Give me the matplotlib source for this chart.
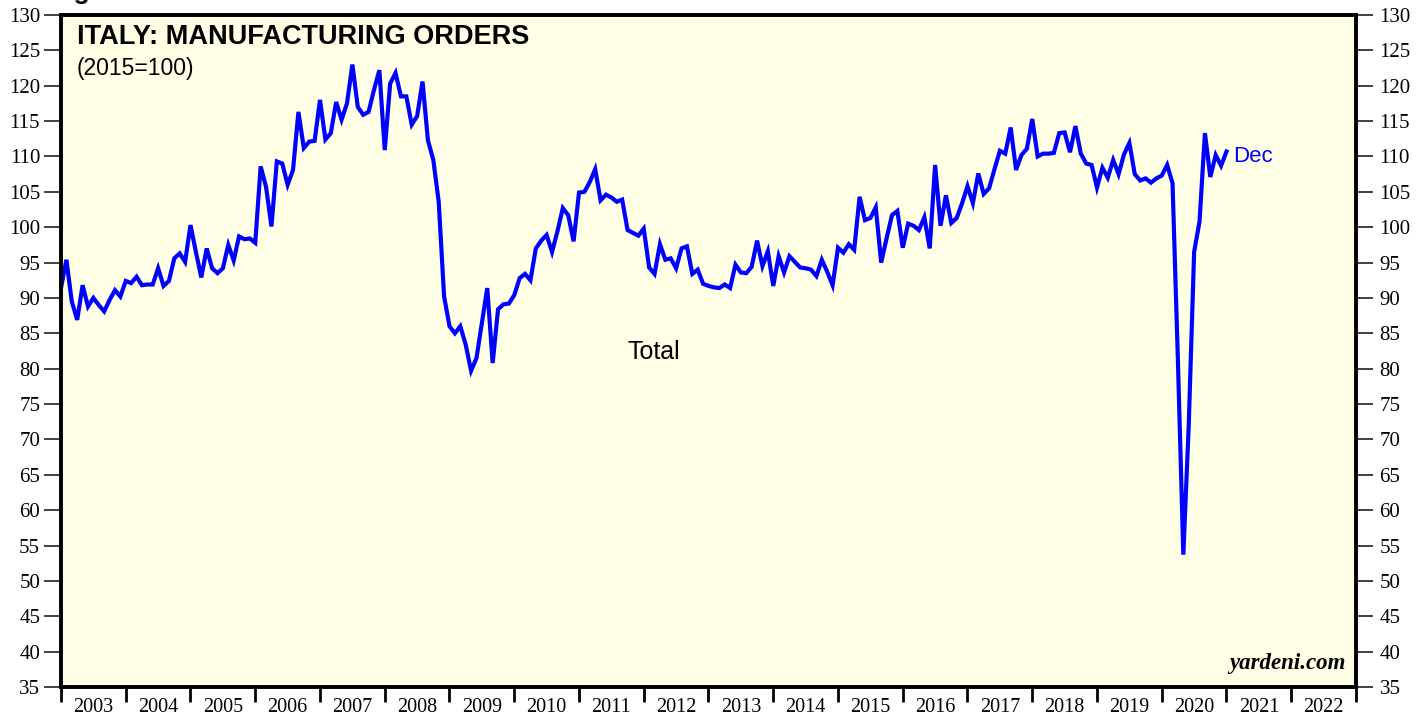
import numpy as np
import matplotlib
matplotlib.use("Agg")
import matplotlib.pyplot as plt

# Italy manufacturing orders, total (2015=100), monthly Dec 2002 - Dec 2020
dec_2002 = [91.4]
y2003 = [95.4, 89.5, 86.9, 91.8, 88.8, 90.0, 89.0, 88.1, 89.7, 91.1, 90.2, 92.4]
y2004 = [92.1, 93.0, 91.8, 91.9, 91.9, 94.2, 91.7, 92.4, 95.6, 96.3, 95.1, 100.3]
y2005 = [96.5, 92.9, 97.0, 94.2, 93.5, 94.2, 97.5, 95.3, 98.7, 98.3, 98.4, 97.8]
y2006 = [108.6, 105.7, 100.1, 109.3, 109.0, 106.0, 108.1, 116.3, 111.2, 112.1, 112.2, 118.0]
y2007 = [112.4, 113.3, 117.7, 115.2, 117.5, 123.0, 117.0, 115.9, 116.3, 119.4, 122.2, 110.9]
y2008 = [120.3, 121.8, 118.5, 118.5, 114.5, 115.7, 120.6, 112.3, 109.5, 103.6, 90.2, 86.0]
y2009 = [85.0, 86.0, 83.4, 79.7, 81.5, 86.4, 91.4, 80.8, 88.4, 89.1, 89.2, 90.4]
y2010 = [92.8, 93.4, 92.5, 97.0, 98.1, 98.9, 96.5, 99.4, 102.7, 101.7, 98.0, 104.9]
y2011 = [105.0, 106.4, 108.2, 103.8, 104.6, 104.2, 103.6, 103.9, 99.6, 99.2, 98.8, 99.8]
y2012 = [94.3, 93.4, 97.6, 95.4, 95.6, 94.2, 97.0, 97.3, 93.4, 94.0, 92.0, 91.7]
y2013 = [91.5, 91.4, 91.9, 91.4, 94.7, 93.6, 93.5, 94.4, 98.1, 94.5, 96.6, 91.7]
y2014 = [95.9, 93.6, 95.9, 95.1, 94.3, 94.2, 94.0, 93.1, 95.4, 93.7, 91.8, 97.1]
y2015 = [96.4, 97.6, 96.8, 104.3, 101.0, 101.3, 102.8, 95.0, 98.4, 101.7, 102.3, 97.1]
y2016 = [100.5, 100.2, 99.6, 101.4, 97.0, 108.8, 100.2, 104.5, 100.6, 101.3, 103.4, 105.8]
y2017 = [103.4, 107.6, 104.7, 105.5, 108.2, 110.8, 110.4, 114.1, 108.1, 110.2, 111.1, 115.3]
y2018 = [110.0, 110.4, 110.4, 110.5, 113.3, 113.4, 110.6, 114.3, 110.4, 109.0, 108.8, 105.6]
y2019 = [108.4, 107.0, 109.5, 107.5, 110.3, 111.9, 107.5, 106.6, 106.9, 106.3, 106.9, 107.3]
y2020 = [108.8, 106.2, 81.0, 53.7, 72.0, 96.5, 100.8, 113.3, 107.1, 110.2, 108.7, 110.7]

years = list(range(2003, 2023))
y_ticks = list(range(35, 131, 5))

orders = (dec_2002 + y2003 + y2004 + y2005 + y2006 + y2007 + y2008 + y2009 + y2010
          + y2011 + y2012 + y2013 + y2014 + y2015 + y2016 + y2017 + y2018 + y2019 + y2020)
# each month is plotted at its month end
t = 2003 + np.arange(len(orders)) / 12

serif = "Liberation Serif"
sans = "Liberation Sans"

fig = plt.figure(figsize=(14.27, 7.19), dpi=100)
ax = fig.add_axes([61 / 1427, 32 / 719, 1295 / 1427, 672 / 719])
ax.set_facecolor("#FFFFE6")

ax.plot(t, orders, color="#0000FF", lw=3.0, solid_joinstyle="miter")

ax.set_xlim(2003, 2023)
ax.set_ylim(35, 130)

# left y axis
ax.set_yticks(y_ticks)
ax.set_yticklabels([str(v) for v in y_ticks], fontfamily=serif, fontsize=15)
ax.tick_params(axis="y", direction="out", length=12, width=1.3, color="#333333", pad=3)

# right y axis (same scale, a bit more label pad)
ax2 = ax.twinx()
ax2.set_ylim(35, 130)
ax2.set_yticks(y_ticks)
ax2.set_yticklabels([str(v) for v in y_ticks], fontfamily=serif, fontsize=15)
ax2.tick_params(axis="y", direction="out", length=12, width=1.3, color="#333333", pad=5)

# year ticks at boundaries, labels mid-year
ax.set_xticks(list(years) + [2023])
ax.set_xticklabels([])
ax.set_xticks([y + 0.5 for y in years], minor=True)
ax.set_xticklabels([str(y) for y in years], minor=True, fontfamily=serif, fontsize=14.5)
ax.tick_params(axis="x", which="major", direction="out", length=11, width=2)
ax.tick_params(axis="x", which="minor", length=0, pad=8)

for a in (ax, ax2):
    for s in a.spines.values():
        s.set_linewidth(2.6)

ax.text(0.012, 0.987, "ITALY: MANUFACTURING ORDERS", transform=ax.transAxes,
        fontfamily=sans, fontweight="bold", fontsize=19.5, va="top", ha="left")
ax.text(0.012, 0.937, "(2015=100)", transform=ax.transAxes,
        fontfamily=sans, fontsize=16.5, va="top", ha="left")
ax.text(2012.15, 82.3, "Total", fontfamily=sans, fontsize=18, ha="center", va="center")
ax.text(2021.1, 110.0, "Dec", fontfamily=sans, fontsize=16, color="#0000FF",
        ha="left", va="center")
ax.text(0.992, 0.02, "yardeni.com", transform=ax.transAxes, fontfamily=serif,
        fontweight="bold", fontstyle="italic", fontsize=16.5, ha="right", va="bottom")

# heading cut off at the top of the image (only the descender shows)
fig.text(50 / 1427, 1 + 0.5 / 719, "Figure", fontfamily=sans, fontweight="bold",
         fontsize=19, va="baseline", ha="left")

fig.savefig("out.png", dpi=100)
